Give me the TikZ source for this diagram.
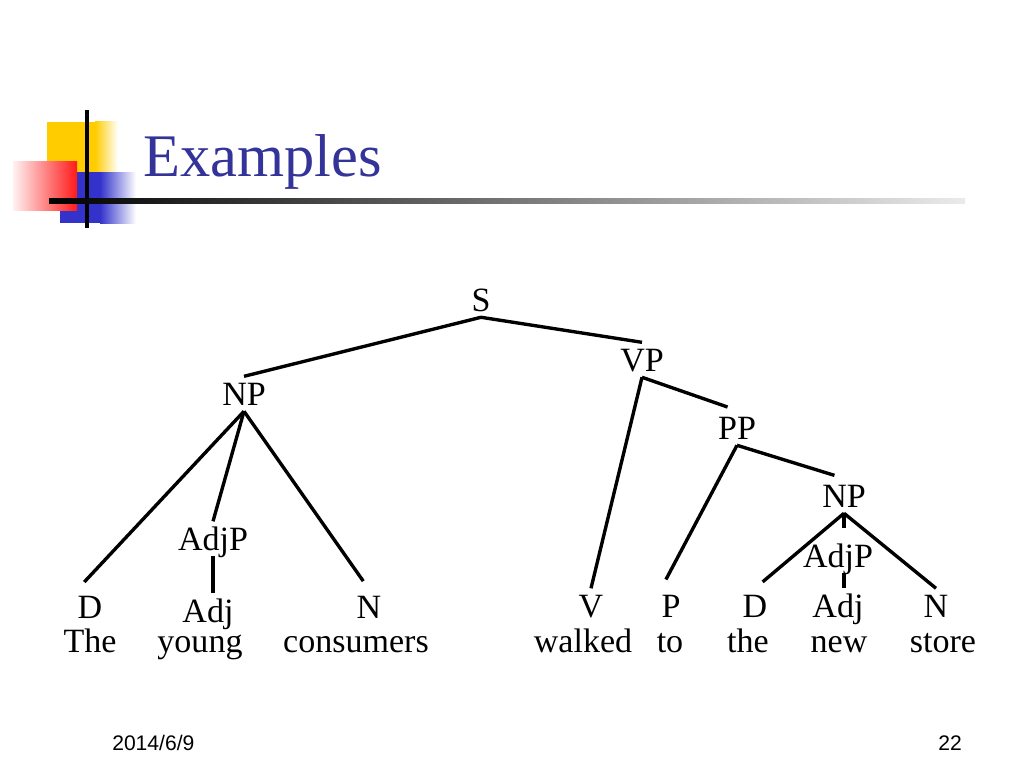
\documentclass[tikz,border=0pt]{standalone}
\usepackage{fontspec}
\setmainfont{Liberation Serif}
\newfontfamily\footfont{Liberation Sans}
\definecolor{titleblue}{RGB}{51,51,153}
\definecolor{logoyellow}{RGB}{255,204,0}
\definecolor{logoblue}{RGB}{51,51,204}

\tikzset{
    cat/.style={anchor=base,inner xsep=0pt,inner ysep=0.15cm,text height=0.56cm,text depth=0pt,font=\fontsize{24.2}{28}\selectfont},
    word/.style={anchor=base,inner sep=0pt,font=\fontsize{24.2}{28}\selectfont},
    branch/.style={line width=2.4pt},
    high/.style={shorten >=0.25cm}
}

\begin{document}
\begin{tikzpicture}[x=0.025cm,y=-0.025cm]
        \useasboundingbox (0,0) rectangle (1024,768);

        % logo
        \fill [logoyellow] (47,122) rectangle (95,178);
        \shade [left color=logoyellow,right color=white] (95,122) rectangle (118,178);
        \fill [logoblue] (60,172) rectangle (100,223);
        \shade [left color=logoblue,right color=white] (100,172) rectangle (136,223);
        \shade [left color=red!5,right color=red!90] (13,162) rectangle (77,210);
        \fill [black] (85,110) rectangle (89,228);
        \shade [left color=black,right color=black!8] (49,198) rectangle (965,203);

        % title and footer
        \node [anchor=base west,inner sep=0pt,text=titleblue,font=\fontsize{43}{50}\selectfont] (title) at (143,176) {Examples};
        \node [anchor=base west,inner sep=0pt,font=\footfont\fontsize{15}{18}\selectfont] (date) at (112,750) {2014/6/9};
        \node [anchor=base east,inner sep=0pt,font=\footfont\fontsize{15}{18}\selectfont] (page) at (962,750) {22};

        % nodes
        \node [cat] (s) at (481,311) {S};
        \node [cat] (vp) at (642,371) {VP};
        \node [cat] (np1) at (244,405) {NP};
        \node [cat] (pp) at (737,439) {PP};
        \node [cat] (np2) at (844,507) {NP};
        \node [cat] (adjp1) at (213,550) {AdjP};
        \node [cat] (adjp2) at (838,567) {AdjP};

        \node [cat] (d1) at (90,618) {D};
        \node [cat] (adj1) at (208,622) {Adj};
        \node [cat] (n1) at (369,618) {N};
        \node [cat] (v) at (591,617) {V};
        \node [cat] (p) at (671,617) {P};
        \node [cat] (d2) at (755,617) {D};
        \node [cat] (adj2) at (838,617) {Adj};
        \node [cat] (n2) at (936,617) {N};

        \node [word] (w1) at (90,652) {The};
        \node [word] (w2) at (200,652) {young};
        \node [word] (w3) at (356,652) {consumers};
        \node [word] (w4) at (583,652) {walked};
        \node [word] (w5) at (670,652) {to};
        \node [word] (w6) at (748,652) {the};
        \node [word] (w7) at (839,652) {new};
        \node [word] (w8) at (943,652) {store};

        % branches
        \draw [branch] (s.south) -- (np1.north);
        \draw [branch] (s.south) -- (vp.north);

        \draw [branch,high] (np1.south) -- (d1.north west);
        \draw [branch] (np1.south) -- (adjp1.north);
        \draw [branch,high] (np1.south) -- (n1.north);
        \draw [branch] (adjp1.south) -- (adjp1.south |- adj1.north);

        \draw [branch] (vp.south) -- (v.north);
        \draw [branch,high] (vp.south) -- (pp.north);
        \draw [branch,high] (pp.south) -- (p.north west);
        \draw [branch,high] (pp.south) -- (np2.north);

        \draw [branch,high] (np2.south) -- (d2.north);
        \draw [branch,high] (np2.south) -- (np2.south |- adjp2.north);
        \draw [branch] (np2.south) -- (n2.north);
        \draw [branch] (np2.south |- adjp2.south) -- (np2.south |- adj2.north);
    \end{tikzpicture}
\end{document}
